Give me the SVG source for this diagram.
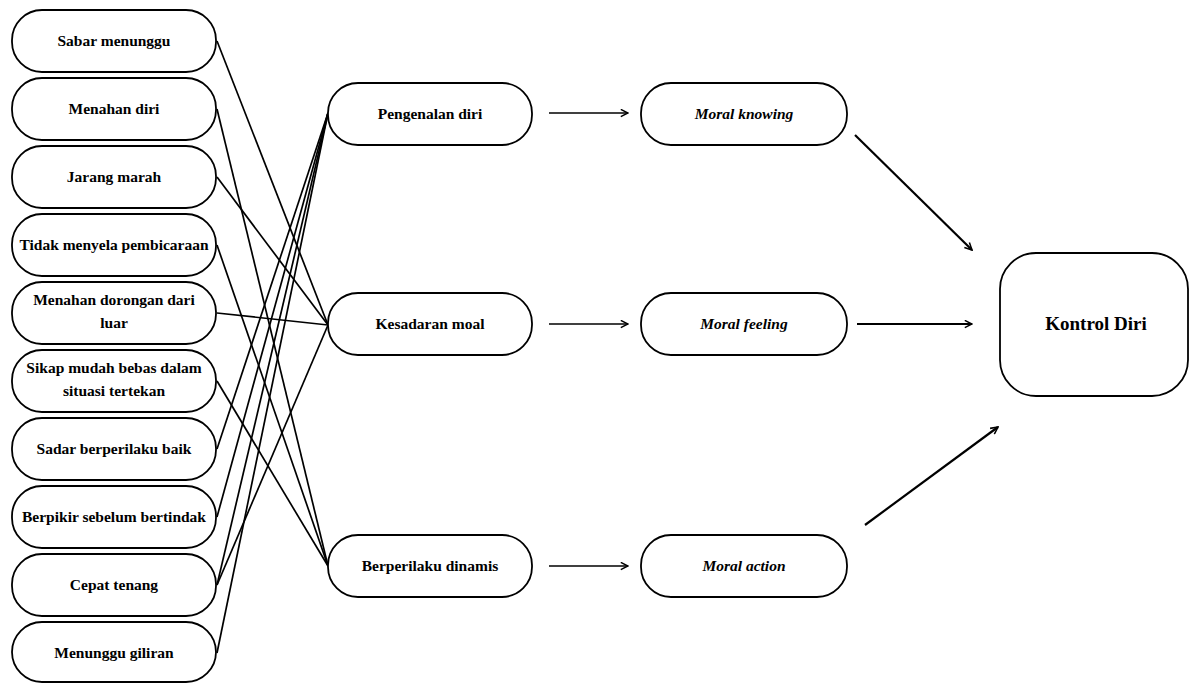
<svg xmlns="http://www.w3.org/2000/svg" width="1190" height="684" viewBox="0 0 1190 684">
<style>
.box{fill:#fff;stroke:#000;stroke-width:1.8}
.t{font-family:"Liberation Serif","Times New Roman",serif;font-weight:bold;font-size:15.5px;fill:#000;text-anchor:middle}
.it{font-style:italic}
.big{font-size:19px}
.c{stroke:#000;stroke-width:1.7;fill:none}
.a{stroke:#000;stroke-width:1.7;fill:none;marker-end:url(#ah)}
.a2{stroke:#000;stroke-width:2.2;fill:none;marker-end:url(#ah)}
</style>
<defs>
<marker id="ah" viewBox="0 0 10 10" refX="9" refY="5" markerWidth="9" markerHeight="9" markerUnits="userSpaceOnUse" orient="auto">
<path d="M1,1 L9,5 L1,9" fill="none" stroke="#000" stroke-width="1.7"/>
</marker>
</defs>
<rect width="1190" height="684" fill="#fff"/>
<g id="connectors">
<line class="c" x1="217" y1="41" x2="328" y2="325"/>
<line class="c" x1="217" y1="109" x2="328" y2="566"/>
<line class="c" x1="217" y1="177" x2="328" y2="325"/>
<line class="c" x1="217" y1="245" x2="328" y2="566"/>
<line class="c" x1="217" y1="313" x2="328" y2="325"/>
<line class="c" x1="217" y1="381" x2="328" y2="566"/>
<line class="c" x1="217" y1="449" x2="328" y2="113"/>
<line class="c" x1="217" y1="517" x2="328" y2="113"/>
<line class="c" x1="217" y1="585" x2="328" y2="113"/>
<line class="c" x1="217" y1="585" x2="328" y2="325"/>
<line class="c" x1="217" y1="653" x2="328" y2="113"/>
<line class="a" x1="549" y1="113" x2="628" y2="113"/>
<line class="a" x1="549" y1="324" x2="628" y2="324"/>
<line class="a" x1="549" y1="566" x2="628" y2="566"/>
<line class="a2" x1="855" y1="135" x2="972" y2="250"/>
<line class="a2" x1="857" y1="324" x2="972" y2="324"/>
<line class="a2" x1="865" y1="525" x2="998" y2="427"/>
</g>
<g id="n1"><rect class="box" x="12" y="10" width="204" height="62" rx="30"/><text class="t" x="114" y="46">Sabar menunggu</text></g>
<g id="n2"><rect class="box" x="12" y="78" width="204" height="62" rx="30"/><text class="t" x="114" y="114">Menahan diri</text></g>
<g id="n3"><rect class="box" x="12" y="146" width="204" height="62" rx="30"/><text class="t" x="114" y="182">Jarang marah</text></g>
<g id="n4"><rect class="box" x="12" y="214" width="204" height="62" rx="30"/><text class="t" x="114" y="250">Tidak menyela pembicaraan</text></g>
<g id="n5"><rect class="box" x="12" y="282" width="204" height="62" rx="30"/><text class="t" x="114" y="305">Menahan dorongan dari</text><text class="t" x="114" y="328">luar</text></g>
<g id="n6"><rect class="box" x="12" y="350" width="204" height="62" rx="30"/><text class="t" x="114" y="373">Sikap mudah bebas dalam</text><text class="t" x="114" y="396">situasi tertekan</text></g>
<g id="n7"><rect class="box" x="12" y="418" width="204" height="62" rx="30"/><text class="t" x="114" y="454">Sadar berperilaku baik</text></g>
<g id="n8"><rect class="box" x="12" y="486" width="204" height="62" rx="30"/><text class="t" x="114" y="522">Berpikir sebelum bertindak</text></g>
<g id="n9"><rect class="box" x="12" y="554" width="204" height="62" rx="30"/><text class="t" x="114" y="590">Cepat tenang</text></g>
<g id="n10"><rect class="box" x="12" y="622" width="204" height="60" rx="30"/><text class="t" x="114" y="658">Menunggu giliran</text></g>
<g id="m1"><rect class="box" x="328" y="83" width="204" height="62" rx="30"/><text class="t" x="430" y="119">Pengenalan diri</text></g>
<g id="m2"><rect class="box" x="328" y="293" width="204" height="62" rx="30"/><text class="t" x="430" y="329">Kesadaran moal</text></g>
<g id="m3"><rect class="box" x="328" y="535" width="204" height="62" rx="30"/><text class="t" x="430" y="571">Berperilaku dinamis</text></g>
<g id="k1"><rect class="box" x="641" y="83" width="206" height="62" rx="30"/><text class="t it" x="744" y="119">Moral knowing</text></g>
<g id="k2"><rect class="box" x="641" y="293" width="206" height="62" rx="30"/><text class="t it" x="744" y="329">Moral feeling</text></g>
<g id="k3"><rect class="box" x="641" y="535" width="206" height="62" rx="30"/><text class="t it" x="744" y="571">Moral action</text></g>
<g id="kd"><rect class="box" x="1000" y="253" width="188" height="143" rx="36"/><text class="t big" x="1096" y="330">Kontrol Diri</text></g>
</svg>
